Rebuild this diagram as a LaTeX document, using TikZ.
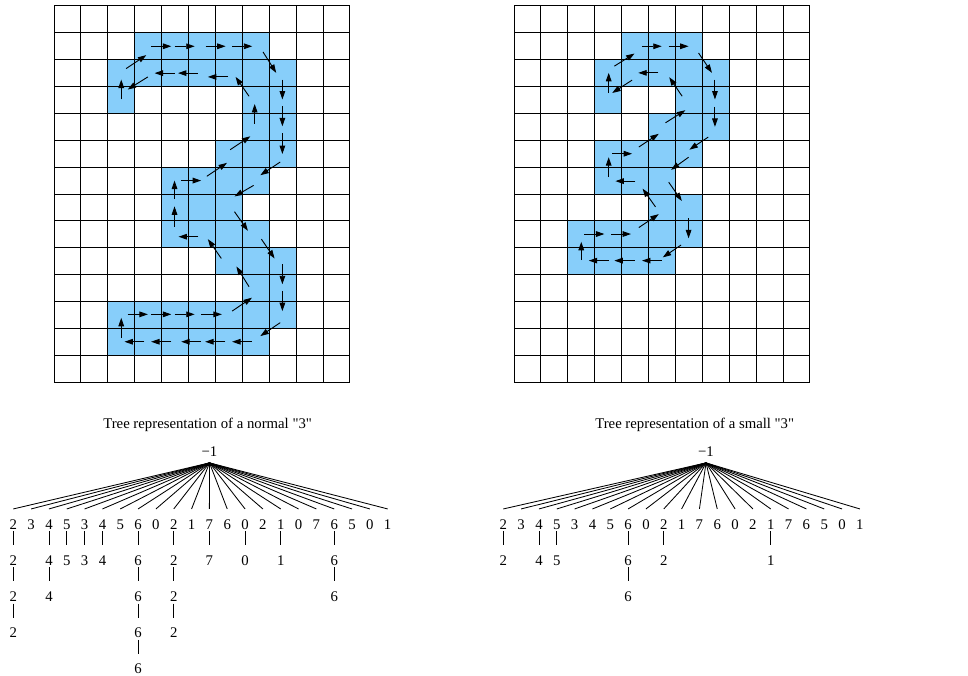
\documentclass[tikz,border=0pt]{standalone}
\usepackage{fontspec}
\setmainfont{Liberation Serif}
\usetikzlibrary{arrows.meta}
\definecolor{cellblue}{HTML}{87CEFA}

\tikzset{
    gridline/.style={black, line width=0.7pt},
    chain/.style={-{Triangle[length=6pt, width=4pt]}, line width=0.65pt},
    digit/.style={inner sep=1.2pt, text height=13pt, text depth=0pt, anchor=base, font=\fontsize{10.5}{12}\selectfont},
    rootdigit/.style={inner sep=4pt, text depth=0pt, anchor=base, font=\fontsize{10.5}{12}\selectfont},
    title/.style={anchor=base west, inner sep=0pt, font=\fontsize{10.5}{12}\selectfont},
    branch/.style={line width=0.6pt},
}

% the 11 x 14 raster, drawn over the filled cells
\newcommand{\DrawGrid}{
    \foreach \i in {0,...,11} {
        \draw[gridline] (\i,0) -- (\i,14);
    }
    \foreach \j in {0,...,14} {
        \draw[gridline] (0,\j) -- (11,\j);
    }
}

\begin{document}
\begin{tikzpicture}
    \useasboundingbox (0,0) rectangle (24.2,16.9);

    % normal "3"
    \begin{scope}[shift={(1.35,16.75)}, x=0.6725cm, y=-0.6715cm]
        \foreach \r/\a/\b in {1/3/7, 2/2/8, 3/2/2, 3/7/8, 4/7/8, 5/6/8, 6/4/7,
                              7/4/6, 8/4/7, 9/6/8, 10/7/8, 11/2/8, 12/2/7} {
            \fill[cellblue] (\a,\r) rectangle (\b+1,\r+1);
        }
        \DrawGrid
        \foreach \xa/\ya/\xb/\yb in {
            3.61/1.5/4.36/1.5, 4.48/1.5/5.23/1.5, 5.64/1.5/6.38/1.5, 6.63/1.5/7.37/1.5,
            7.77/1.71/8.26/2.49, 8.49/2.74/8.49/3.48, 8.49/3.73/8.49/4.48, 8.49/4.73/8.49/5.51,
            8.41/5.81/7.67/6.30, 7.42/6.68/6.71/7.09, 6.71/7.66/7.21/8.37, 7.71/8.68/8.20/9.40,
            8.49/9.62/8.49/10.36, 8.49/10.61/8.49/11.36, 8.41/11.79/7.67/12.29,
            7.36/12.5/6.62/12.5, 6.37/12.5/5.62/12.5, 5.47/12.5/4.73/12.5, 4.36/12.5/3.61/12.5,
            3.36/12.5/2.62/12.5, 2.5/12.35/2.5/11.61,
            2.74/11.48/3.49/11.48, 3.61/11.48/4.36/11.48, 4.48/11.48/5.23/11.48, 5.47/11.48/6.24/11.48,
            6.62/11.36/7.36/10.86, 7.25/10.45/6.78/9.70, 6.22/9.40/5.72/8.68, 5.37/8.59/4.63/8.59,
            4.48/8.21/4.48/7.46, 4.48/7.19/4.48/6.50, 4.73/6.50/5.47/6.50,
            5.68/6.34/6.43/5.84, 6.55/5.35/7.30/4.85, 7.46/4.38/7.46/3.65, 7.25/3.36/6.75/2.64,
            6.47/2.64/5.72/2.64, 5.35/2.50/4.61/2.50, 4.48/2.50/3.74/2.50,
            3.49/2.64/2.74/3.11, 2.5/3.48/2.5/2.74, 2.68/2.33/3.43/1.83} {
            \draw[chain] (\xa,\ya) -- (\xb,\yb);
        }
    \end{scope}

    % small "3"
    \begin{scope}[shift={(12.85,16.75)}, x=0.6725cm, y=-0.6715cm]
        \foreach \r/\a/\b in {1/4/6, 2/3/7, 3/3/3, 3/6/7, 4/5/7, 5/3/6, 6/3/5,
                              7/5/6, 8/2/6, 9/2/5} {
            \fill[cellblue] (\a,\r) rectangle (\b+1,\r+1);
        }
        \DrawGrid
        \foreach \xa/\ya/\xb/\yb in {
            4.75/1.5/5.49/1.5, 5.75/1.5/6.49/1.5, 6.86/1.75/7.36/2.49,
            7.47/2.74/7.47/3.48, 7.47/3.76/7.47/4.50, 7.22/4.88/6.52/5.35,
            6.49/5.63/5.84/6.10, 5.75/6.56/6.24/7.26, 6.49/7.91/6.49/8.65, 6.21/8.90/5.53/9.36,
            5.50/9.48/4.76/9.48, 4.48/9.48/3.73/9.48, 3.52/9.48/2.78/9.48, 2.50/9.46/2.50/8.78,
            2.62/8.49/3.36/8.49, 3.61/8.49/4.35/8.49, 4.64/8.25/5.38/7.75, 5.26/7.48/4.78/6.80,
            4.51/6.52/3.77/6.52, 3.52/6.37/3.52/5.63, 3.65/5.50/4.39/5.50,
            4.64/5.25/5.38/4.76, 5.63/4.35/6.37/3.88, 6.25/3.36/5.77/2.65, 5.37/2.49/4.62/2.49,
            4.39/2.76/3.65/3.24, 3.52/3.24/3.52/2.49, 3.73/2.24/4.48/1.77} {
            \draw[chain] (\xa,\ya) -- (\xb,\yb);
        }
    \end{scope}

    % tree of the normal "3"
    \node[title] (ltitle) at (2.575,6.175) {Tree representation of a normal \textquotedbl 3\textquotedbl};
    \node[rootdigit] (lroot) at (5.2375,5.475) {−1};
    \foreach \d [count=\i from 0] in {2,3,4,5,3,4,5,6,0,2,1,7,6,0,2,1,0,7,6,5,0,1} {
        \node[digit] (l\i-0) at ({0.3325+0.4457*\i},3.67) {\d};
        \draw[branch] (lroot.south) -- (l\i-0.north);
    }
    \foreach \i/\d/\n in {0/2/3, 2/4/2, 3/5/1, 4/3/1, 5/4/1, 7/6/4, 9/2/3, 11/7/1, 13/0/1, 15/1/1, 18/6/2} {
        \foreach \k in {1,...,\n} {
            \pgfmathtruncatemacro{\p}{\k-1}
            \node[digit] (l\i-\k) at ({0.3325+0.4457*\i},{3.67-0.905*\k}) {\d};
            \draw[branch] (l\i-\p.south) -- (l\i-\k.north);
        }
    }

    % tree of the small "3"
    \node[title] (rtitle) at (14.875,6.175) {Tree representation of a small \textquotedbl 3\textquotedbl};
    \node[rootdigit] (rroot) at (17.65,5.475) {−1};
    \foreach \d [count=\i from 0] in {2,3,4,5,3,4,5,6,0,2,1,7,6,0,2,1,7,6,5,0,1} {
        \node[digit] (r\i-0) at ({12.583+0.4457*\i},3.67) {\d};
        \draw[branch] (rroot.south) -- (r\i-0.north);
    }
    \foreach \i/\d/\n in {0/2/1, 2/4/1, 3/5/1, 7/6/2, 9/2/1, 15/1/1} {
        \foreach \k in {1,...,\n} {
            \pgfmathtruncatemacro{\p}{\k-1}
            \node[digit] (r\i-\k) at ({12.583+0.4457*\i},{3.67-0.905*\k}) {\d};
            \draw[branch] (r\i-\p.south) -- (r\i-\k.north);
        }
    }
\end{tikzpicture}
\end{document}
